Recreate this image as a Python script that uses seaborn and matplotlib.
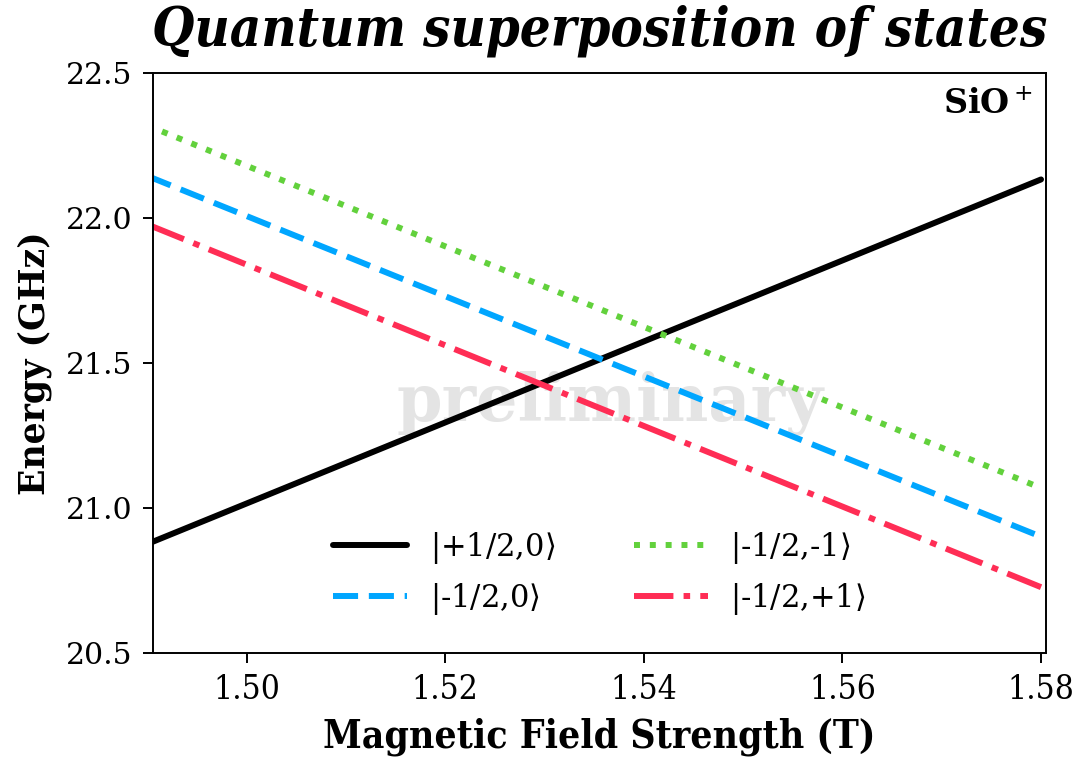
import matplotlib
matplotlib.use("Agg")
import matplotlib.pyplot as plt
import pandas as pd
import seaborn as sns

# Field endpoints (T) and level energies (GHz) at those fields
field = [1.49, 1.58]
e_plus_half_0 = [20.877, 22.134]
e_minus_half_0 = [22.146, 20.902]
e_minus_half_m1 = [22.320, 21.070]
e_minus_half_p1 = [21.979, 20.728]

labels = [r"$|$+1/2,0$\rangle$", r"$|$-1/2,0$\rangle$", r"$|$-1/2,-1$\rangle$", r"$|$-1/2,+1$\rangle$"]
colors = ["#000000", "#00a6ff", "#62d13c", "#ff2d55"]
linestyles = ["-", (0, (4.2, 1.8)), ":", (0, (6.6, 1.7, 1.1, 1.7))]
x_ticks = [1.50, 1.52, 1.54, 1.56, 1.58]
y_ticks = [20.5, 21.0, 21.5, 22.0, 22.5]

sns.set_theme(style="ticks")
plt.rcParams["font.family"] = ["DejaVu Serif", "DejaVu Sans"]
plt.rcParams["mathtext.fontset"] = "dejavuserif"
for key in ["text.color", "axes.labelcolor", "xtick.color", "ytick.color", "axes.edgecolor"]:
    plt.rcParams[key] = "black"

fig = plt.figure(figsize=(10.81, 7.64), dpi=100)
ax = fig.add_axes([153.3 / 1081, 1 - 653.3 / 764, (1046 - 153.3) / 1081, (653.3 - 73.3) / 764])

df = pd.DataFrame({
    "field": field * 4,
    "energy": e_plus_half_0 + e_minus_half_0 + e_minus_half_m1 + e_minus_half_p1,
    "state": [lab for lab in labels for _ in field],
})

ax.text(0.512, 0.43, "preliminary", transform=ax.transAxes, ha="center", va="center",
        fontsize=47, fontweight="bold", color="#e4e4e4", zorder=0)

for lab, c, ls in zip(labels, colors, linestyles):
    sns.lineplot(data=df[df["state"] == lab], x="field", y="energy", ax=ax,
                 color=c, linestyle=ls, linewidth=4.3, label=lab, zorder=2)

ax.set_xlim(1.4906, 1.5805)
ax.set_ylim(20.5, 22.5)
ax.set_xticks(x_ticks)
ax.set_xticklabels([f"{t:.2f}" for t in x_ticks], fontsize=24, fontstretch="condensed")
ax.set_yticks(y_ticks)
ax.set_yticklabels([f"{t:.1f}" for t in y_ticks], fontsize=21.5)
ax.tick_params(axis="both", length=7, width=1.4, color="black", pad=8)
for s in ax.spines.values():
    s.set_linewidth(1.4)
    s.set_color("black")

ax.set_xlabel("Magnetic Field Strength (T)", fontsize=28, fontweight="bold",
              fontstretch="condensed", labelpad=8)
ax.set_ylabel("Energy (GHz)", fontsize=25, fontweight="bold", labelpad=10)
ax.set_title("Quantum superposition of states", fontsize=39, fontweight="bold",
             fontstyle="italic", fontstretch="condensed", pad=20)

ax.text(0.985, 0.975, "SiO$^+$", transform=ax.transAxes, ha="right", va="top",
        fontsize=24, fontweight="bold")

ax.legend(loc="lower center", bbox_to_anchor=(0.5, 0.015), ncol=2, frameon=False,
          fontsize=22, handlelength=2.4, handletextpad=0.75, columnspacing=2.6,
          labelspacing=0.5)

fig.savefig("out.png", dpi=100)
